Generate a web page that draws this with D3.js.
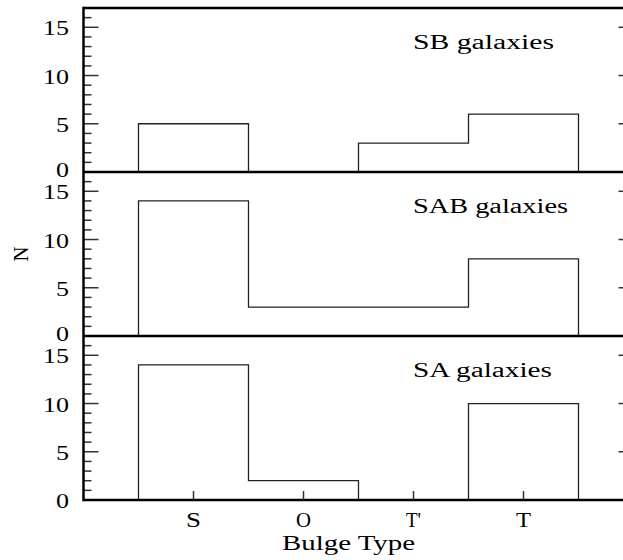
<!DOCTYPE html>
<html>
<head>
<meta charset="utf-8">
<script src="https://cdn.jsdelivr.net/npm/d3@7/dist/d3.min.js"></script>
<style>
  html, body { margin: 0; padding: 0; background: #fff; }
  svg { display: block; }
  text { font-family: "Liberation Serif", "DejaVu Serif", serif; fill: #000; }
</style>
</head>
<body>
<svg id="chart" width="623" height="560"></svg>
<script>
// ---- data ----
const categories = ["S", "O", "T'", "T"];
const panelNames = ["SB galaxies", "SAB galaxies", "SA galaxies"];
const sbCounts  = [5, 0, 3, 6];
const sabCounts = [14, 3, 3, 8];
const saCounts  = [14, 2, 0, 10];
const yMajorTicks = [0, 5, 10, 15];
const yMinorTicks = [1, 2, 3, 4, 6, 7, 8, 9, 11, 12, 13, 14, 16];
const xLabel = "Bulge Type";
const yLabel = "N";

const panels = [
  { name: panelNames[0], values: sbCounts, len: 141 },
  { name: panelNames[1], values: sabCounts, len: 155 },
  { name: panelNames[2], values: saCounts, len: 139 }
];

// ---- layout ----
const svg = d3.select("#chart");
const left = 83.5, right = 633.5;
const top0 = 8, panelH = 164;

const x = d3.scaleLinear().domain([0, 5]).range([left, right]);
const line = d3.line().x(d => x(d[0])).y(d => d[1]);

panels.forEach((p, k) => {
  const pTop = top0 + k * panelH;
  const isLast = k === panels.length - 1;
  const y = d3.scaleLinear().domain([0, 17]).range([pTop + panelH, pTop]);
  const g = svg.append("g");

  // histogram outline
  const pts = [[0.5, y(0)]];
  p.values.forEach((v, i) => {
    pts.push([i + 0.5, y(v)]);
    pts.push([i + 1.5, y(v)]);
  });
  pts.push([p.values.length + 0.5, y(0)]);
  g.append("path")
    .attr("d", line(pts))
    .attr("fill", "none")
    .attr("stroke", "#222")
    .attr("stroke-width", 1.3);

  const tick = (data, x1, x2) => g.selectAll(null).data(data).enter().append("line")
    .attr("x1", x1).attr("x2", x2)
    .attr("y1", d => y(d)).attr("y2", d => y(d))
    .attr("stroke", "#333").attr("stroke-width", 1.5);
  tick(yMajorTicks, left, left + 15);
  tick(yMinorTicks, left, left + 8);
  tick(yMajorTicks, right, right - 15);
  tick(yMinorTicks, right, right - 8);

  // tick labels
  g.selectAll(null).data(yMajorTicks).enter().append("text")
    .attr("x", 69).attr("y", d => y(d) + (d === 0 && !isLast ? 4.5 : 8))
    .attr("text-anchor", "end")
    .attr("font-size", 21)
    .attr("textLength", d => String(d).length * 13)
    .attr("lengthAdjust", "spacingAndGlyphs")
    .text(d => d);

  // panel name
  g.append("text")
    .attr("x", 413).attr("y", pTop + 41)
    .attr("font-size", 20)
    .attr("textLength", p.len)
    .attr("lengthAdjust", "spacingAndGlyphs")
    .text(p.name);

  // bottom border of the panel
  g.append("line")
    .attr("x1", left).attr("x2", 623)
    .attr("y1", pTop + panelH).attr("y2", pTop + panelH)
    .attr("stroke", "#000").attr("stroke-width", 2.5);
});

// frame top and left
svg.append("line").attr("x1", left).attr("x2", 623).attr("y1", top0).attr("y2", top0)
  .attr("stroke", "#000").attr("stroke-width", 2.5);
svg.append("line").attr("x1", left).attr("x2", left).attr("y1", top0 - 1.25).attr("y2", top0 + 3 * panelH + 1.25)
  .attr("stroke", "#000").attr("stroke-width", 2.5);

// x ticks on bottom axis
const yBottom = top0 + 3 * panelH;
svg.selectAll(null).data(categories).enter().append("line")
  .attr("x1", (d, i) => x(i + 1)).attr("x2", (d, i) => x(i + 1))
  .attr("y1", yBottom).attr("y2", yBottom - 9)
  .attr("stroke", "#333").attr("stroke-width", 1.5);
svg.selectAll(null).data(categories).enter().append("text")
  .attr("x", (d, i) => x(i + 1)).attr("y", yBottom + 27)
  .attr("text-anchor", "middle")
  .attr("font-size", 22)
  .attr("textLength", 15)
  .attr("lengthAdjust", "spacingAndGlyphs")
  .text(d => d);

// axis titles
svg.append("text")
  .attr("x", 282).attr("y", 550)
  .attr("font-size", 21)
  .attr("textLength", 133).attr("lengthAdjust", "spacingAndGlyphs")
  .text(xLabel);
svg.append("text")
  .attr("transform", "translate(28,254) rotate(-90)")
  .attr("text-anchor", "middle")
  .attr("font-size", 22)
  .attr("textLength", 15).attr("lengthAdjust", "spacingAndGlyphs")
  .text(yLabel);
</script>
</body>
</html>
